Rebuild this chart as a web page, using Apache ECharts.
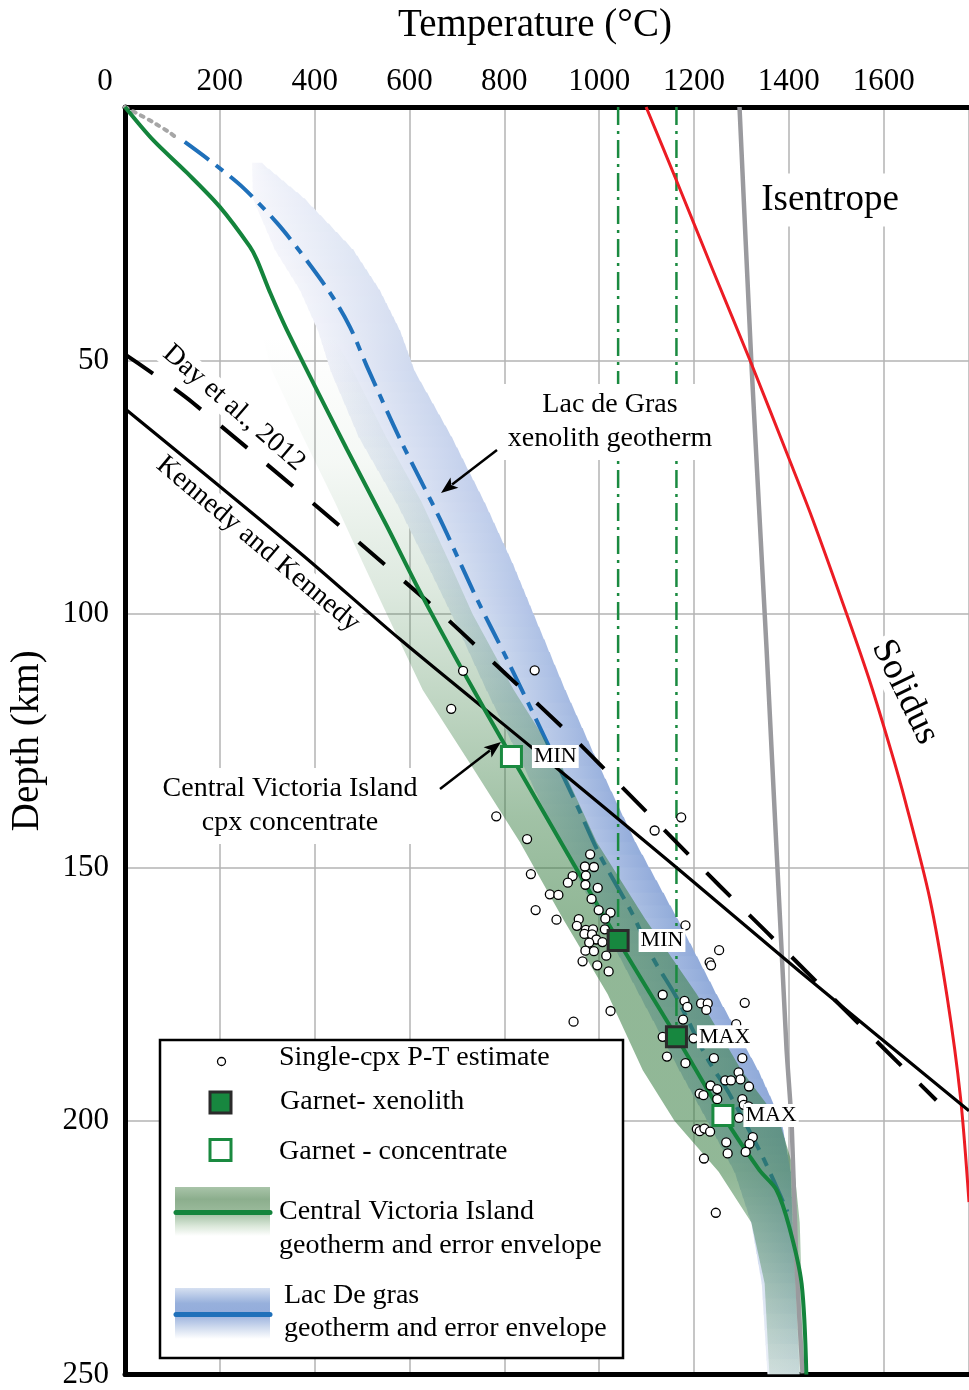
<!DOCTYPE html>
<html>
<head>
<meta charset="utf-8">
<script src="https://cdn.jsdelivr.net/npm/echarts@6.0.0/dist/echarts.min.js"></script>
<style>
html,body{margin:0;padding:0;background:#fff;}
#chart{width:969px;height:1390px;}
</style>
</head>
<body>
<div id="chart"></div>
<script>
// ---------------- DATA (temperature in °C, depth in km) ----------------
const tempTicks = [0, 200, 400, 600, 800, 1000, 1200, 1400, 1600];
const depthTicks = [50, 100, 150, 200, 250];

// Central Victoria Island geotherm
const cviT = [0, 59, 131, 200, 263, 278, 306, 341, 468, 552, 622, 706, 815, 1040, 1163, 1261, 1338, 1374, 1401, 1427, 1437];
const cviD = [0, 6.5, 13, 19.7, 27.5, 30.1, 36.6, 43.9, 67.5, 82.6, 95.6, 110.1, 128.1, 164.4, 183.4, 198.9, 209.7, 213.6, 220.9, 232.1, 250];
// Central Victoria Island error envelope
const cviEnvD  = [45, 52, 65, 78, 90, 100, 115, 130, 145, 160, 175, 190, 200, 210, 220, 232, 250];
const cviEnvLo = [289, 310, 375, 443, 502, 552, 628, 731, 833, 923, 1018, 1092, 1159, 1252, 1321, 1349, 1359];
const cviEnvHi = [438, 481, 550, 626, 685, 733, 820, 921, 995, 1096, 1206, 1300, 1380, 1412, 1423, 1427, 1433];

// Lac de Gras xenolith geotherm (shallow dotted part + dash-dot part)
const ldgShallowT = [0, 32, 59, 95, 110];
const ldgShallowD = [0, 1.6, 3.0, 5.1, 6.2];
const ldgT = [126, 185, 249, 320, 369, 432, 474, 510, 580, 664, 742, 805, 889, 953, 1001, 1071, 1113, 1163, 1227, 1275, 1345, 1397];
const ldgD = [6.9, 11.0, 15.9, 22.8, 28.5, 36.6, 43.3, 51.1, 65.5, 81.2, 97.0, 108.8, 125.1, 137.7, 147.5, 159.3, 167.8, 175.6, 187.5, 194.7, 207.1, 217.9];
// Lac de Gras error envelope
const ldgEnvD  = [11, 18, 28, 36, 44, 52, 65, 78, 90, 100, 115, 130, 145, 160, 175, 190, 200, 210, 220, 232, 250];
const ldgEnvLo = [268, 270, 316, 369, 407, 434, 493, 573, 637, 689, 763, 841, 917, 1001, 1085, 1170, 1229, 1286, 1321, 1343, 1355];
const ldgEnvHi = [289, 379, 481, 537, 580, 611, 689, 759, 818, 862, 929, 1001, 1077, 1165, 1248, 1336, 1385, 1404, 1408, 1414, 1423];

// Isentrope
const isenT = [1296, 1321, 1353, 1395, 1406, 1416, 1429];
const isenD = [0, 50.4, 106.8, 185.5, 200.6, 228.2, 249.8];
// Solidus
const solT = [1099, 1163, 1239, 1320, 1398, 1449, 1525, 1573, 1616, 1645, 1697, 1734, 1762, 1780];
const solD = [0, 14.5, 32, 50.4, 68.8, 81, 100.8, 113.9, 127.1, 136.7, 156, 175.6, 195.3, 216];
// Kennedy and Kennedy
const kkT = [0, 370, 580, 860, 1163, 1423, 1780];
const kkD = [59.5, 88, 105, 126.5, 150, 170.5, 198];
// Day et al., 2012
const dayT = [0, 141, 639, 797, 953, 1054, 1254, 1355, 1555, 1711];
const dayD = [48.8, 58.2, 97.6, 111.3, 125.1, 134.7, 153.6, 162.9, 181.5, 195.9];

// Single-cpx P-T estimates
const cpxT = [713,864,688,783,1173,1117,848,981,970,989,856,944,972,934,971,997,896,914,984,866,999,1024,910,1013,957,953,972,987,969,985,1012,994,979,1007,1182,1103,971,989,1015,965,1253,1233,1236,996,1020,1134,1180,1186,1215,1229,1226,1307,1024,946,1177,1289,1134,1199,1143,1182,1242,1302,1235,1249,1266,1278,1294,1298,1316,1212,1220,1249,1302,1305,1315,1295,1206,1212,1222,1234,1268,1324,1317,1271,1309,1221,1246];
const cpxD = [111.2,111.1,118.7,139.9,140.1,142.7,144.4,147.4,149.8,149.9,151.3,151.7,151.6,153.0,153.4,154.0,155.3,155.4,156.2,158.4,158.4,158.9,160.3,160.1,160.2,161.5,162.3,162.2,163.1,163.2,162.2,164.2,164.8,164.7,161.4,165.2,166.4,166.5,167.4,168.5,166.3,168.7,169.3,169.3,170.5,175.1,176.3,177.5,176.8,176.8,178.1,176.7,178.3,180.4,180.0,180.9,183.4,183.7,187.3,188.6,187.6,187.6,193.0,193.7,192.0,192.0,190.4,191.8,193.2,194.6,194.9,195.7,195.7,196.8,197.1,199.4,201.6,202.0,201.5,202.1,204.2,203.2,204.5,206.4,206.1,207.4,218.1];

// Garnet estimates
const garnetTags = ['MIN', 'MAX'];
const xenoT = [1040, 1163];
const xenoD = [164.4, 183.4];
const concT = [815, 1261];
const concD = [128.1, 198.9];

// ---------------- RENDERING ----------------
const FONT = '"Liberation Serif", "Times New Roman", serif';
const pairs = (xs, ys) => xs.map((x, i) => [x, ys[i]]);

function hex(h) { return [parseInt(h.slice(1,3),16), parseInt(h.slice(3,5),16), parseInt(h.slice(5,7),16)]; }
function stopColor(stops, d) {
  if (d <= stops[0][0]) return stops[0][1];
  for (let k = 1; k < stops.length; k++) {
    if (d <= stops[k][0]) {
      const t = (d - stops[k-1][0]) / (stops[k][0] - stops[k-1][0]);
      const a = hex(stops[k-1][1]), b = hex(stops[k][1]);
      return 'rgb(' + a.map((v, j) => Math.round(v + (b[j] - v) * t)).join(',') + ')';
    }
  }
  return stops[stops.length-1][1];
}
const blueRightStops = [[10,'#f0f2fa'],[25,'#e2e8f5'],[50,'#d0daef'],[80,'#bfcdeb'],[110,'#aabee4'],[140,'#94addb'],[200,'#8fa9d9'],[225,'#b3c6e5'],[250,'#e4ebf6']];
const blueLeftStops  = [[10,'#f8f8fc'],[50,'#eff1f9'],[100,'#e1e8f4'],[150,'#c8d5ed'],[200,'#b8c9e8'],[250,'#edf1f9']];

function ldgBand(params, api) {
  const i = params.dataIndex;
  if (i >= ldgEnvD.length - 1) return null;
  const a = api.coord([ldgEnvLo[i], ldgEnvD[i]]);
  const b = api.coord([ldgEnvLo[i+1], ldgEnvD[i+1]]);
  const c = api.coord([ldgEnvHi[i+1], ldgEnvD[i+1]]);
  const e = api.coord([ldgEnvHi[i], ldgEnvD[i]]);
  const lastSeg = i === ldgEnvD.length - 2;
  const K = 6, children = [];
  const lerp = (p, q, t) => [p[0] + (q[0] - p[0]) * t, p[1] + (q[1] - p[1]) * t];
  for (let k = 0; k < K; k++) {
    const t0 = k / K, t1 = (k + 1) / K;
    const L0 = lerp(a, b, t0), L1 = lerp(a, b, t1), R0 = lerp(e, c, t0), R1 = lerp(e, c, t1);
    const ext = (lastSeg && k === K - 1) ? 0 : 1.2;
    const dm = ldgEnvD[i] + (ldgEnvD[i+1] - ldgEnvD[i]) * (t0 + t1) / 2;
    const xl = (L0[0] + L1[0]) / 2, xr = (R0[0] + R1[0]) / 2;
    children.push({
      type: 'polygon',
      shape: { points: [L0, [L1[0], L1[1] + ext], [R1[0], R1[1] + ext], R0] },
      style: {
        fill: new echarts.graphic.LinearGradient(xl, 0, xr, 0, [
          { offset: 0, color: stopColor(blueLeftStops, dm) },
          { offset: 1, color: stopColor(blueRightStops, dm) }
        ], true),
        stroke: null
      }
    });
  }
  return { type: 'group', children: children };
}

function cviBand(params, api) {
  if (params.dataIndex !== 0) return null;
  const lo = cviEnvD.map((d, i) => api.coord([cviEnvLo[i], d]));
  const hi = cviEnvD.map((d, i) => api.coord([cviEnvHi[i], d])).reverse();
  const d0 = cviEnvD[0], d1 = cviEnvD[cviEnvD.length - 1];
  const y0 = api.coord([0, d0])[1], y1 = api.coord([0, d1])[1];
  const alphaStops = [[45,0],[70,0.05],[95,0.17],[115,0.3],[140,0.47],[160,0.55],[210,0.55],[232,0.35],[250,0.15]];
  const stops = alphaStops.map(([d, al]) => ({ offset: (d - d0) / (d1 - d0), color: 'rgba(55,125,65,' + al + ')' }));
  return {
    type: 'polygon',
    shape: { points: lo.concat(hi) },
    style: { fill: new echarts.graphic.LinearGradient(0, y0, 0, y1, stops, true), stroke: null }
  };
}

function arrow(x1, y1, x2, y2) {
  const dx = x2 - x1, dy = y2 - y1, L = Math.hypot(dx, dy), ux = dx / L, uy = dy / L;
  const hl = 17, hw = 6.5;
  const bx = x2 - ux * hl, by = y2 - uy * hl;
  return [
    { type: 'line', z: 100, shape: { x1: x1, y1: y1, x2: bx + ux * 3, y2: by + uy * 3 }, style: { stroke: '#000', lineWidth: 2.5 } },
    { type: 'polygon', z: 100, shape: { points: [[x2, y2], [bx - uy * hw, by + ux * hw], [bx + ux * 4, by + uy * 4], [bx + uy * hw, by - ux * hw]] }, style: { fill: '#000' } }
  ];
}

function txt(x, y, text, size, extra) {
  return Object.assign({
    type: 'text', x: x, y: y, z: 100,
    style: Object.assign({ text: text, fontFamily: FONT, fontSize: size, fill: '#000', align: 'left', verticalAlign: 'middle' }, (extra && extra.style) || {})
  }, extra && extra.rotation !== undefined ? { rotation: extra.rotation } : {});
}

const lineBase = { type: 'line', showSymbol: false, symbol: 'none', silent: true, xAxisIndex: 0, yAxisIndex: 0 };
const squareLabel = { show: true, position: 'right', distance: 9, formatter: '{b}', fontFamily: FONT, fontSize: 22, color: '#000', backgroundColor: '#fff', padding: [1, 2, 0, 2] };

const chart = echarts.init(document.getElementById('chart'));
const option = {
  animation: false,
  backgroundColor: '#fff',
  grid: { left: 125, right: 0, top: 107, bottom: 12, containLabel: false },
  xAxis: [{
    type: 'value', position: 'top', min: 0, max: 1780, interval: 200,
    name: 'Temperature (°C)', nameLocation: 'middle', nameGap: 62,
    nameTextStyle: { fontFamily: FONT, fontSize: 39, color: '#000', padding: [0, 24, 0, 0] },
    axisLine: { show: true, onZero: false, lineStyle: { color: '#000', width: 5 } },
    axisTick: { show: false },
    axisLabel: {
      show: true, margin: 10, color: '#000', fontFamily: FONT, fontSize: 31, showMaxLabel: false,
      formatter: v => tempTicks.includes(v) ? (v === 0 ? '{z|0}' : String(v)) : '',
      rich: { z: { fontFamily: FONT, fontSize: 31, color: '#000', padding: [0, 40, 0, 0] } }
    },
    splitLine: { show: true, lineStyle: { color: '#b3b3b3', width: 1.5 } }
  }, {
    type: 'value', position: 'bottom', min: 0, max: 1780,
    axisLine: { show: true, onZero: false, lineStyle: { color: '#000', width: 5 } },
    axisTick: { show: false }, axisLabel: { show: false }, splitLine: { show: false }
  }],
  yAxis: [{
    type: 'value', inverse: true, min: 0, max: 250, interval: 50,
    name: 'Depth (km)', nameLocation: 'middle', nameGap: 78, nameRotate: 90,
    nameTextStyle: { fontFamily: FONT, fontSize: 39, color: '#000' },
    axisLine: { show: true, onZero: false, lineStyle: { color: '#000', width: 5 } },
    axisTick: { show: false },
    axisLabel: { margin: 16, color: '#000', fontFamily: FONT, fontSize: 31, showMinLabel: false,
      formatter: v => depthTicks.includes(v) ? String(v) : '' },
    splitLine: { show: true, lineStyle: { color: '#b3b3b3', width: 1.5 } }
  }],
  series: [
    { type: 'custom', name: 'Lac de Gras envelope', renderItem: ldgBand, silent: true, clip: true, z: 1,
      data: ldgEnvD.map((d, i) => [ldgEnvLo[i], d, ldgEnvHi[i]]), encode: { x: [0, 2], y: 1 } },
    Object.assign({}, lineBase, { name: 'Lac de Gras shallow', z: 2, data: pairs(ldgShallowT, ldgShallowD), smooth: 0.3,
      lineStyle: { color: '#a6a6a6', width: 4, type: [3, 6], cap: 'round' } }),
    Object.assign({}, lineBase, { name: 'Lac de Gras geotherm', z: 2, data: pairs(ldgT, ldgD), smooth: 0.3,
      lineStyle: { color: '#1f70ba', width: 4, type: [30, 9, 9, 9] } }),
    { type: 'custom', name: 'CVI envelope', renderItem: cviBand, silent: true, clip: true, z: 3,
      data: cviEnvD.map((d, i) => [cviEnvLo[i], d, cviEnvHi[i]]), encode: { x: [0, 2], y: 1 } },
    Object.assign({}, lineBase, { name: 'Xenolith MIN', z: 4, data: [[xenoT[0], 0], [xenoT[0], xenoD[0]]],
      lineStyle: { color: '#1a8a40', width: 2.5, type: [18, 6, 3, 6] } }),
    Object.assign({}, lineBase, { name: 'Xenolith MAX', z: 4, data: [[xenoT[1], 0], [xenoT[1], xenoD[1]]],
      lineStyle: { color: '#1a8a40', width: 2.5, type: [18, 6, 3, 6] } }),
    Object.assign({}, lineBase, { name: 'Isentrope', z: 4, data: pairs(isenT, isenD), smooth: 0.2,
      lineStyle: { color: '#9a9a9e', width: 4.5 } }),
    Object.assign({}, lineBase, { name: 'Solidus', z: 4, data: pairs(solT, solD), smooth: 0.3,
      lineStyle: { color: '#ec1c24', width: 3 } }),
    Object.assign({}, lineBase, { name: 'Kennedy and Kennedy', z: 4, data: pairs(kkT, kkD), smooth: 0.3,
      lineStyle: { color: '#000', width: 3.2 } }),
    Object.assign({}, lineBase, { name: 'Day et al., 2012', z: 4, data: pairs(dayT, dayD), smooth: 0.3,
      lineStyle: { color: '#000', width: 4, type: [34, 26] } }),
    Object.assign({}, lineBase, { name: 'CVI geotherm', z: 5, data: pairs(cviT, cviD), smooth: 0.3,
      lineStyle: { color: '#14843c', width: 4 } }),
    { type: 'scatter', name: 'Single-cpx P-T estimate', z: 6, silent: true, data: pairs(cpxT, cpxD),
      symbol: 'circle', symbolSize: 9, itemStyle: { color: '#fff', borderColor: '#000', borderWidth: 1.3, opacity: 1 } },
    { type: 'scatter', name: 'Garnet- xenolith', z: 7, silent: true,
      data: xenoT.map((t, i) => ({ name: garnetTags[i], value: [t, xenoD[i]] })),
      symbol: 'rect', symbolSize: 20, itemStyle: { color: '#17873f', borderColor: '#2b2b2b', borderWidth: 3, opacity: 1 },
      label: squareLabel },
    { type: 'scatter', name: 'Garnet - concentrate', z: 7, silent: true,
      data: concT.map((t, i) => ({ name: garnetTags[i], value: [t, concD[i]] })),
      symbol: 'rect', symbolSize: 20, itemStyle: { color: '#fff', borderColor: '#1a8a40', borderWidth: 3, opacity: 1 },
      label: squareLabel }
  ],
  graphic: [].concat(
    [
      txt(830, 200, 'Isentrope', 37, { style: { align: 'center', backgroundColor: '#fff', padding: [8, 6] } }),
      txt(905, 692, 'Solidus', 37, { rotation: -1.12, style: { align: 'center', backgroundColor: '#fff', padding: [0, 4] } }),
      txt(234, 408, 'Day et al., 2012', 28, { rotation: -0.71, style: { align: 'center', backgroundColor: '#fff', padding: [0, 3] } }),
      txt(258, 544, 'Kennedy and Kennedy', 28, { rotation: -0.70, style: { align: 'center', backgroundColor: '#fff', padding: [0, 3] } }),
      txt(610, 422, 'Lac de Gras\nxenolith geotherm', 28, { style: { align: 'center', lineHeight: 34, backgroundColor: '#fff', padding: [4, 6] } }),
      txt(290, 806, 'Central Victoria Island\ncpx concentrate', 28, { style: { align: 'center', lineHeight: 34, backgroundColor: '#fff', padding: [4, 4] } })
    ],
    arrow(497, 450, 441, 493),
    arrow(440, 789, 501, 742),
    [
      { type: 'rect', z: 90, shape: { x: 160, y: 1040, width: 463, height: 318 }, style: { fill: '#fff', stroke: '#000', lineWidth: 2.5 } },
      { type: 'circle', z: 95, shape: { cx: 221.5, cy: 1061.5, r: 4 }, style: { fill: '#fff', stroke: '#000', lineWidth: 1.3 } },
      { type: 'rect', z: 95, shape: { x: 210, y: 1092, width: 21, height: 21 }, style: { fill: '#17873f', stroke: '#2b2b2b', lineWidth: 3 } },
      { type: 'rect', z: 95, shape: { x: 210, y: 1139.5, width: 21, height: 21 }, style: { fill: '#fff', stroke: '#1a8a40', lineWidth: 3 } },
      { type: 'rect', z: 95, shape: { x: 175, y: 1187, width: 95, height: 49 }, style: { fill: new echarts.graphic.LinearGradient(0, 0, 0, 1, [
        { offset: 0, color: '#a9c4a9' }, { offset: 0.25, color: '#8cae8d' }, { offset: 0.5, color: '#9aba9b' }, { offset: 0.8, color: '#dbe8da' }, { offset: 1, color: '#ffffff' }]) } },
      { type: 'line', z: 96, shape: { x1: 176, y1: 1212.5, x2: 270, y2: 1212.5 }, style: { stroke: '#14843c', lineWidth: 5, lineCap: 'round' } },
      { type: 'rect', z: 95, shape: { x: 175, y: 1288, width: 95, height: 51 }, style: { fill: new echarts.graphic.LinearGradient(0, 0, 0, 1, [
        { offset: 0, color: '#d6e0f1' }, { offset: 0.3, color: '#97b0dc' }, { offset: 0.5, color: '#93acdb' }, { offset: 0.8, color: '#d5dff0' }, { offset: 1, color: '#ffffff' }]) } },
      { type: 'line', z: 96, shape: { x1: 176, y1: 1314.5, x2: 270, y2: 1314.5 }, style: { stroke: '#1f70ba', lineWidth: 5, lineCap: 'round' } },
      txt(279, 1058, 'Single-cpx P-T estimate', 28),
      txt(280, 1102, 'Garnet- xenolith', 28),
      txt(279, 1152, 'Garnet - concentrate', 28),
      txt(279, 1212, 'Central Victoria Island', 28),
      txt(279, 1246, 'geotherm and error envelope', 28),
      txt(284, 1296, 'Lac De gras', 28),
      txt(284, 1329, 'geotherm and error envelope', 28)
    ]
  )
};
chart.setOption(option);
</script>
</body>
</html>
